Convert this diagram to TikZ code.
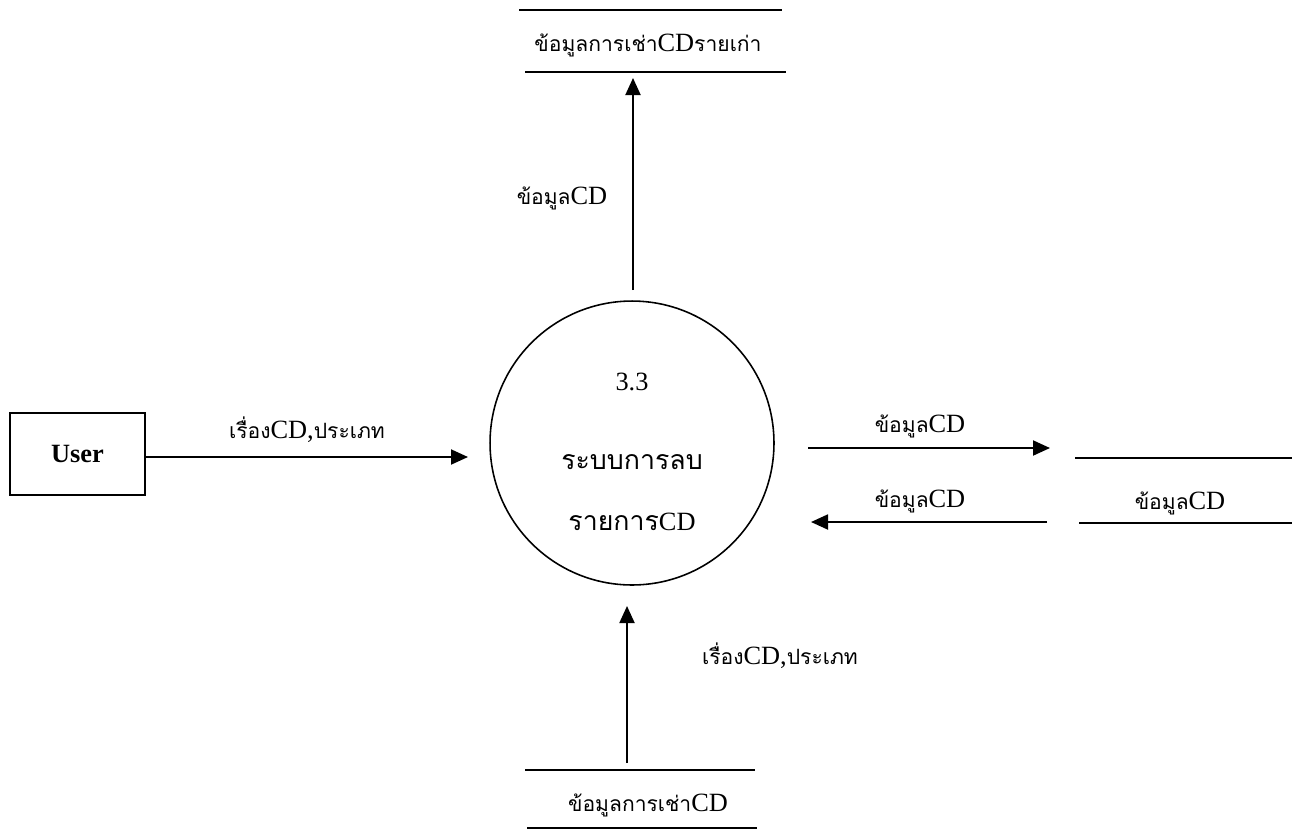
\documentclass[tikz,border=0pt]{standalone}
\usepackage{fontspec}
\setmainfont{Liberation Serif}
\newfontfamily\thaifont[Script=Thai,Scale=0.8]{Loma}
\newcommand{\thai}[1]{{\thaifont #1}}
\newcommand{\bigthai}[1]{{\fontsize{19}{22}\selectfont\thaifont #1}}
\usetikzlibrary{arrows.meta}

\begin{document}
\begin{tikzpicture}[x=0.02cm,y=-0.02cm,
    flow/.style={-{Triangle[length=0.34cm,width=0.3cm]},line width=1.1pt},
    storeline/.style={line width=1.1pt},
    every node/.style={font=\fontsize{15}{18}\selectfont,inner sep=0pt}]
  \useasboundingbox (0,0) rectangle (1310,829);

  % process and external entity
  \node (proc) [draw,circle,line width=0.9pt,minimum size=5.68cm] at (632,443) {};
  \node (procnum) at (632,382) {3.3};
  \node (procnameA) at (632,462) {\bigthai{ระบบการลบ}};
  \node (procnameB) at (632,522) {\bigthai{รายการ}CD};
  \node (user) [draw,line width=1.1pt,minimum width=2.7cm,minimum height=1.64cm,
    font=\fontsize{15}{18}\selectfont\bfseries] at (77.5,454) {User};

  % data stores
  \draw[storeline] (519,10) -- (782,10);
  \draw[storeline] (525,72) -- (786,72);
  \node (oldrent) at (648,45) {\thai{ข้อมูลการเช่า}CD\thai{รายเก่า}};
  \draw[storeline] (1075,458) -- (1292,458);
  \draw[storeline] (1079,523) -- (1292,523);
  \node (cdstore) at (1180,503) {\thai{ข้อมูล}CD};
  \draw[storeline] (525,770) -- (755,770);
  \draw[storeline] (527,828) -- (757,828);
  \node (rent) at (648,805) {\thai{ข้อมูลการเช่า}CD};

  % flow end points
  \coordinate (topfrom) at (633,290);
  \coordinate (topto) at (633,78);
  \coordinate (userto) at (468,457);
  \coordinate (outfrom) at (808,448);
  \coordinate (outto) at (1050,448);
  \coordinate (infrom) at (1047,522);
  \coordinate (into) at (811,522);
  \coordinate (botfrom) at (627,763);
  \coordinate (botto) at (627,606);

  % flows
  \draw[flow] (topfrom) -- (topto);
  \node (lblTop) at (562,198) {\thai{ข้อมูล}CD};
  \draw[flow] (user.east |- userto) -- (userto);
  \node (lblUser) at (307,430) {\thai{เรื่อง}CD,\thai{ประเภท}};
  \draw[flow] (outfrom) -- (outto);
  \node (lblOut) at (920,426) {\thai{ข้อมูล}CD};
  \draw[flow] (infrom) -- (into);
  \node (lblIn) at (920,501) {\thai{ข้อมูล}CD};
  \draw[flow] (botfrom) -- (botto);
  \node (lblBot) at (780,656) {\thai{เรื่อง}CD,\thai{ประเภท}};
\end{tikzpicture}
\end{document}
